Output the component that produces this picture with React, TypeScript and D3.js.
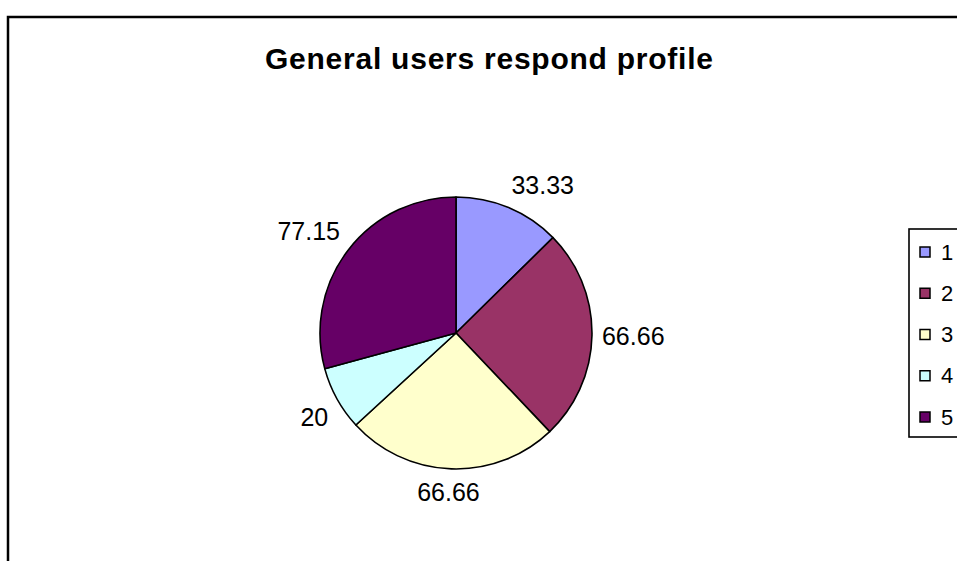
import React from "react";
import * as d3 from "d3";

const categories = ["1", "2", "3", "4", "5"];
const values = [33.33, 66.66, 66.66, 20, 77.15];
const colors = ["#9999FF", "#993366", "#FFFFCC", "#CCFFFF", "#660066"];
const title = "General users respond profile";

const W = 957;
const H = 561;
const FONT = "Arial, 'Liberation Sans', sans-serif";

function measure(text: string, font: string): number {
  if (typeof document === "undefined") return text.length * 12;
  const c = document.createElement("canvas");
  const ctx = c.getContext("2d");
  if (!ctx) return text.length * 12;
  ctx.font = font;
  return ctx.measureText(text).width;
}

export default function App() {
  const cx = 456;
  const cy = 333;
  const r = 136;
  const labelFs = 25;
  const pie = d3.pie<number>().sort(null).value((d) => d)(values);
  const arc = d3.arc<d3.PieArcDatum<number>>().innerRadius(0).outerRadius(r);

  const legendY = d3.scalePoint<string>().domain(categories).range([252, 417]);

  const clamp = (v: number) => Math.max(-1, Math.min(1, v));

  return (
    <svg
      width={W}
      height={H}
      style={{ position: "absolute", left: 0, top: 0, background: "#fff" }}
    >
      <rect x={0} y={0} width={W} height={H} fill="#fff" />
      <rect x={8} y={17} width={W + 50} height={H + 50} fill="#fff" stroke="#000" strokeWidth={2.5} />
      <text
        x={489}
        y={69}
        textAnchor="middle"
        fontFamily={FONT}
        fontWeight="bold"
        fontSize={30}
        textLength={448}
        lengthAdjust="spacing"
        fill="#000"
      >
        {title}
      </text>
      <g transform={`translate(${cx},${cy})`}>
        {pie.map((p, i) => (
          <path key={i} d={arc(p) || ""} fill={colors[i]} stroke="#000" strokeWidth={1.6} strokeLinejoin="round" />
        ))}
      </g>
      {pie.map((p, i) => {
        const mid = (p.startAngle + p.endAngle) / 2;
        const s = Math.sin(mid);
        const c = Math.cos(mid);
        const px = cx + (r + 10) * s;
        const py = cy - (r + 10) * c;
        const txt = String(values[i]);
        const w = measure(txt, `${labelFs}px ${FONT}`);
        const h = 26;
        const lx = px + clamp(2.5 * s) * (w / 2);
        const ly = py - clamp(2.5 * c) * (h / 2);
        return (
          <text
            key={i}
            x={lx}
            y={ly}
            textAnchor="middle"
            dominantBaseline="central"
            fontFamily={FONT}
            fontSize={labelFs}
            fill="#000"
          >
            {txt}
          </text>
        );
      })}
      <rect x={909} y={229} width={100} height={208} fill="#fff" stroke="#000" strokeWidth={1.6} />
      {categories.map((cat, i) => {
        const y = legendY(cat) as number;
        return (
          <g key={cat}>
            <rect x={920} y={y - 5} width={10} height={10} fill={colors[i]} stroke="#000" strokeWidth={1.5} />
            <text x={941} y={y} dominantBaseline="central" fontFamily={FONT} fontSize={22} fill="#000">
              {cat}
            </text>
          </g>
        );
      })}
    </svg>
  );
}
